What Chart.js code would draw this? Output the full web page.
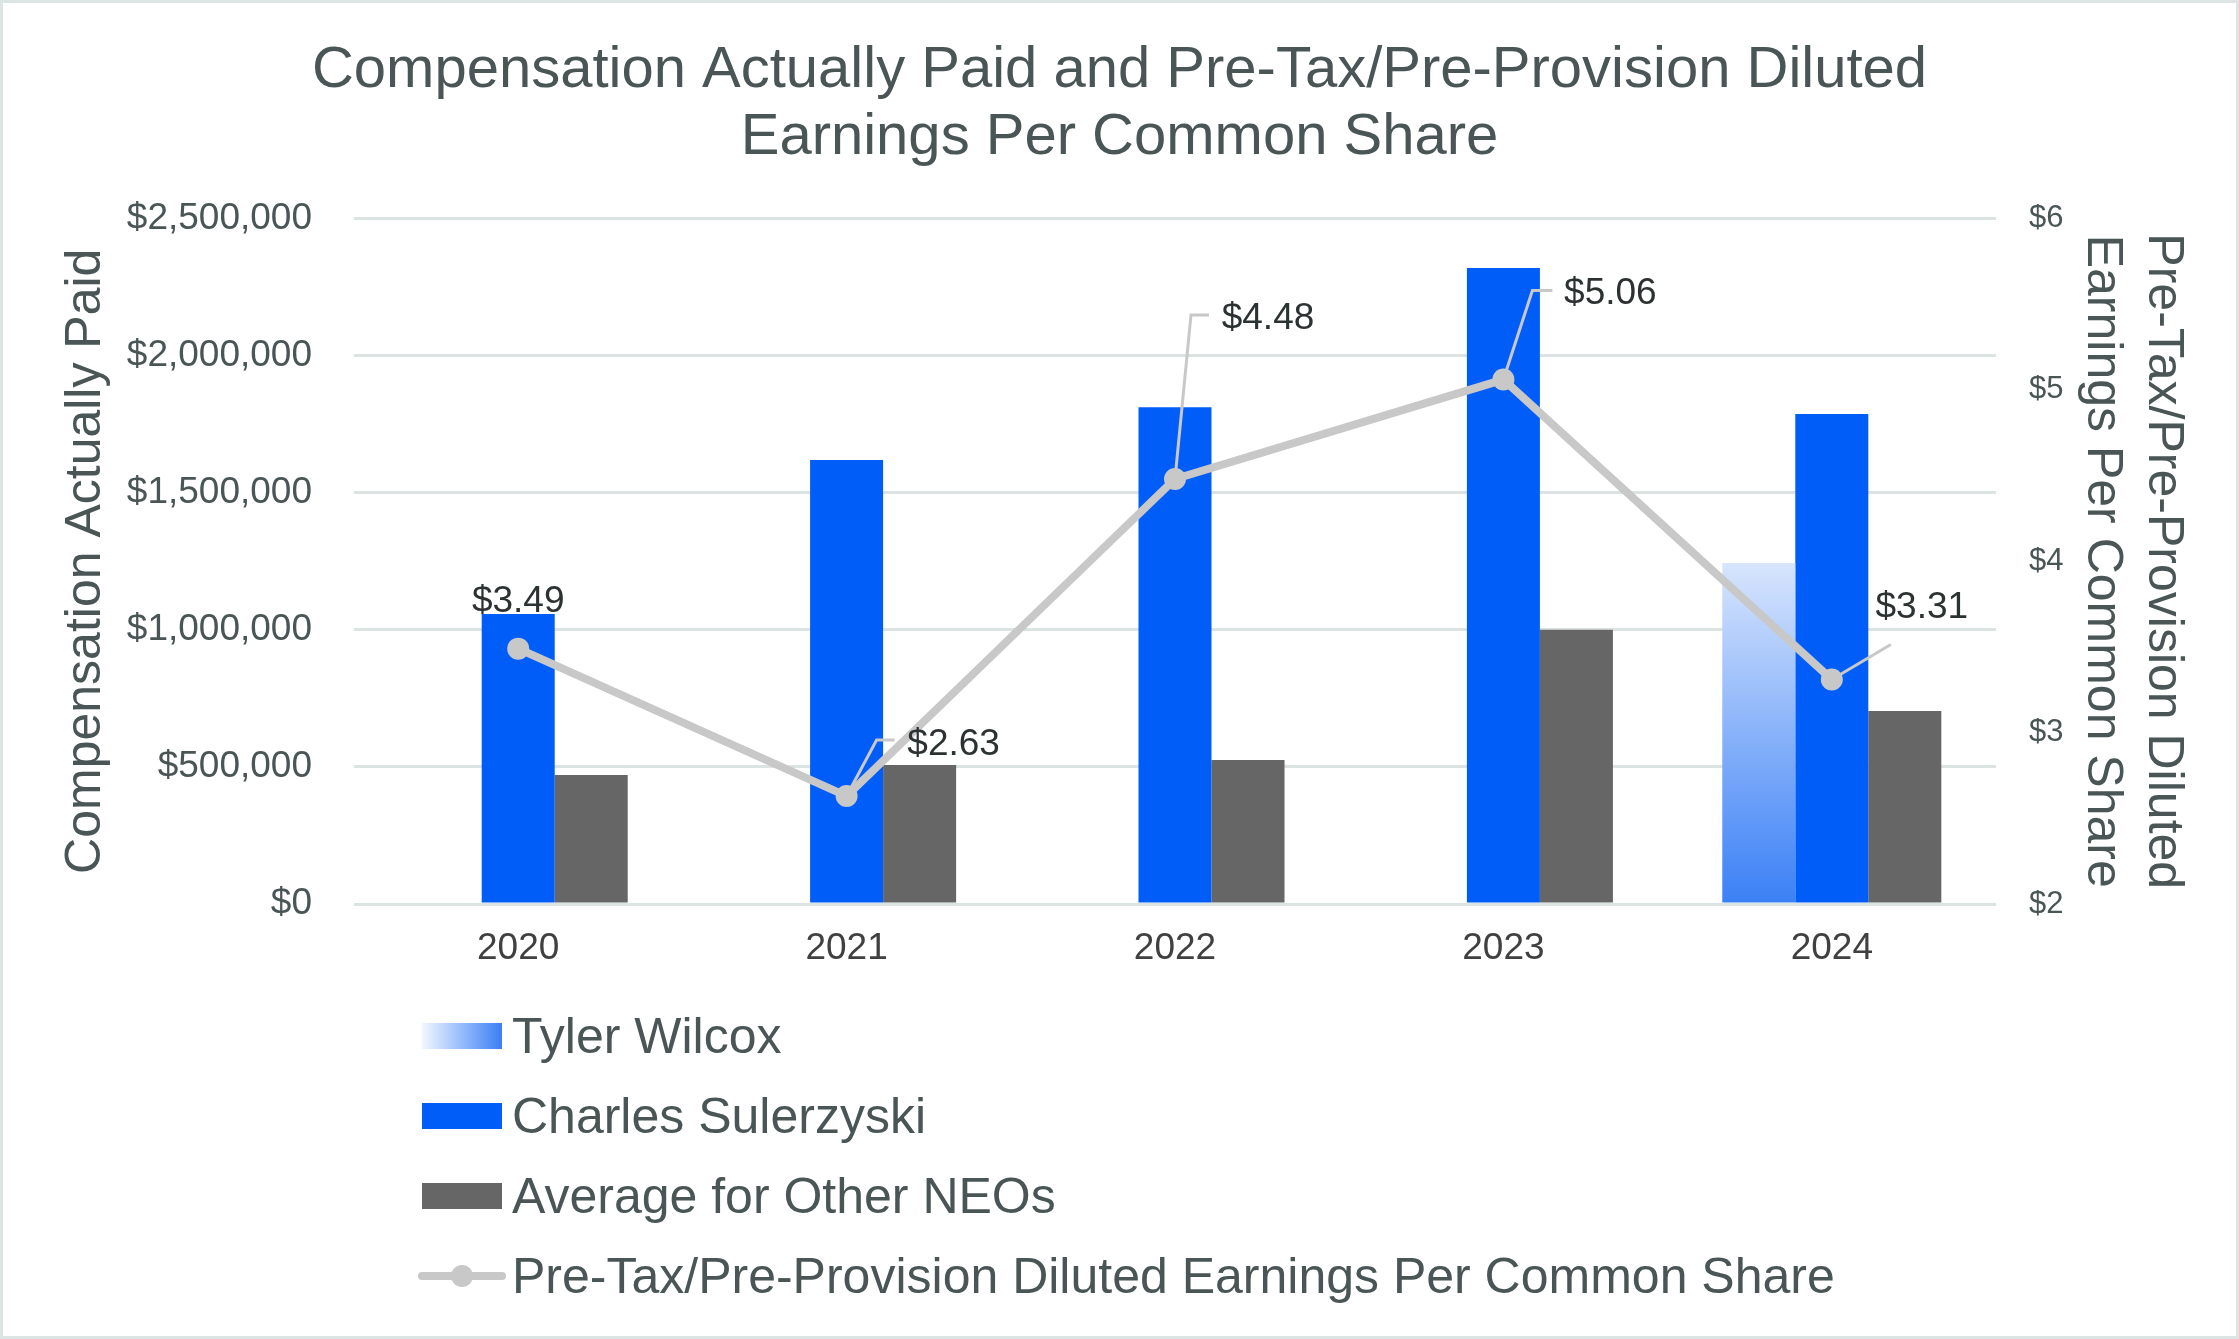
<!DOCTYPE html>
<html><head><meta charset="utf-8">
<script src="https://cdn.jsdelivr.net/npm/chart.js@4.4.1/dist/chart.umd.min.js"></script>
<style>html,body{margin:0;padding:0;background:#fff}#wrap{position:relative;width:2239px;height:1339px}</style>
</head><body><div id="wrap"><canvas id="c"></canvas></div>
<script>
// ---- data ----
const categories = ['2020', '2021', '2022', '2023', '2024'];
const tylerWilcox = [null, null, null, null, 1244000];
const charlesSulerzyski = [1058000, 1619000, 1812000, 2319000, 1787000];
const otherNEOs = [470000, 507000, 525000, 1000000, 704000];
const epsValues = [3.49, 2.63, 4.48, 5.06, 3.31];
const epsLabels = ['$3.49', '$2.63', '$4.48', '$5.06', '$3.31'];
const leftTickLabels = ['$0', '$500,000', '$1,000,000', '$1,500,000', '$2,000,000', '$2,500,000'];
const rightTickLabels = ['$2', '$3', '$4', '$5', '$6'];
const seriesNames = ['Tyler Wilcox', 'Charles Sulerzyski', 'Average for Other NEOs', 'Pre-Tax/Pre-Provision Diluted Earnings Per Common Share'];
const titleLines = ['Compensation Actually Paid and Pre-Tax/Pre-Provision Diluted', 'Earnings Per Common Share'];
const leftAxisTitle = 'Compensation Actually Paid';
const rightAxisTitle = ['Pre-Tax/Pre-Provision Diluted', 'Earnings Per Common Share'];

// ---- style ----
const FONT = '"Liberation Sans", Arial, Helvetica, sans-serif';
const TEXT = '#4a5556';
const BLUE = '#005df8';
const GREY = '#666666';
const LINE = '#c8c8c8';
const GRID = '#dce3e3';
const callouts = [
  {dx: 0, dy: -47, leader: null},
  {dx: 107, dy: -51, leader: [[30, -56], [48, -56]]},
  {dx: 93, dy: -160, leader: [[16, -164], [34, -164]]},
  {dx: 107, dy: -86, leader: [[29, -89], [49, -89]]},
  {dx: 90, dy: -72, leader: [[59, -35]]}
];
const legendLayout = {boxX: 422, boxW: 80, boxH: 26, textX: 512, rows: [1036, 1116, 1196, 1276], textDy: 3, fontSize: 50};

function tylerFill(ctx) {
  const chart = ctx.chart;
  const ys = chart.scales && chart.scales.y;
  if (!ys || ctx.type !== 'data' || ctx.raw == null) return '#7aa8f8';
  const top = ys.getPixelForValue(ctx.raw), base = ys.getPixelForValue(0);
  if (!isFinite(top) || !isFinite(base) || top === base) return '#7aa8f8';
  const g = chart.ctx.createLinearGradient(0, top, 0, base);
  g.addColorStop(0, '#d7e5fd');
  g.addColorStop(1, '#3a80f6');
  return g;
}

const framePlugin = {
  id: 'frame',
  beforeDraw(chart) {
    const c = chart.ctx;
    c.save();
    c.fillStyle = '#ffffff';
    c.fillRect(0, 0, chart.width, chart.height);
    c.restore();
  },
  afterDraw(chart) {
    const c = chart.ctx;
    c.save();
    c.strokeStyle = '#dde4e4';
    c.lineWidth = 3;
    c.strokeRect(1.5, 1.5, chart.width - 3, chart.height - 3);
    c.restore();
  }
};

const calloutPlugin = {
  id: 'callouts',
  afterDatasetsDraw(chart) {
    const meta = chart.getDatasetMeta(3);
    const c = chart.ctx;
    c.save();
    meta.data.forEach((pt, i) => {
      const co = callouts[i];
      if (co.leader) {
        c.strokeStyle = LINE;
        c.lineWidth = 3;
        c.beginPath();
        c.moveTo(pt.x, pt.y);
        co.leader.forEach(p => c.lineTo(pt.x + p[0], pt.y + p[1]));
        c.stroke();
      }
      c.fillStyle = '#2c3232';
      c.font = '37px ' + FONT;
      c.textAlign = 'center';
      c.textBaseline = 'middle';
      c.fillText(epsLabels[i], pt.x + co.dx, pt.y + co.dy);
    });
    c.restore();
  }
};

const legendPlugin = {
  id: 'customLegend',
  afterDraw(chart) {
    const c = chart.ctx;
    const L = legendLayout;
    c.save();
    c.font = L.fontSize + 'px ' + FONT;
    c.textAlign = 'left';
    c.textBaseline = 'middle';
    seriesNames.forEach((name, i) => {
      const y = L.rows[i];
      if (i === 0) {
        const g = c.createLinearGradient(L.boxX, 0, L.boxX + L.boxW, 0);
        g.addColorStop(0, '#f2f7ff');
        g.addColorStop(1, '#3a7ff6');
        c.fillStyle = g;
        c.fillRect(L.boxX, y - L.boxH / 2, L.boxW, L.boxH);
      } else if (i === 1) {
        c.fillStyle = BLUE;
        c.fillRect(L.boxX, y - L.boxH / 2, L.boxW, L.boxH);
      } else if (i === 2) {
        c.fillStyle = GREY;
        c.fillRect(L.boxX, y - L.boxH / 2, L.boxW, L.boxH);
      } else {
        c.strokeStyle = LINE;
        c.lineWidth = 8;
        c.lineCap = 'round';
        c.beginPath();
        c.moveTo(L.boxX, y);
        c.lineTo(L.boxX + L.boxW, y);
        c.stroke();
        c.fillStyle = LINE;
        c.beginPath();
        c.arc(L.boxX + L.boxW / 2, y, 11, 0, Math.PI * 2);
        c.fill();
      }
      c.fillStyle = TEXT;
      c.fillText(name, L.textX, y + L.textDy);
    });
    c.restore();
  }
};

new Chart(document.getElementById('c'), {
  data: {
    labels: categories,
    datasets: [
      {type: 'bar', label: seriesNames[0], data: tylerWilcox, backgroundColor: tylerFill, yAxisID: 'y', order: 1, categoryPercentage: 0.667, barPercentage: 1.0},
      {type: 'bar', label: seriesNames[1], data: charlesSulerzyski, backgroundColor: BLUE, yAxisID: 'y', order: 1, categoryPercentage: 0.667, barPercentage: 1.0},
      {type: 'bar', label: seriesNames[2], data: otherNEOs, backgroundColor: GREY, yAxisID: 'y', order: 1, categoryPercentage: 0.667, barPercentage: 1.0},
      {type: 'line', label: seriesNames[3], data: epsValues, yAxisID: 'y1', order: 0, borderColor: LINE, borderWidth: 8, pointRadius: 11, pointHoverRadius: 11, pointBackgroundColor: LINE, pointBorderWidth: 0, tension: 0, fill: false}
    ]
  },
  options: {
    responsive: true,
    maintainAspectRatio: false,
    animation: false,
    events: [],
    layout: {padding: {left: 0, right: 0, top: 0, bottom: 335}},
    plugins: {
      legend: {display: false},
      tooltip: {enabled: false},
      title: {
        display: true,
        text: titleLines,
        color: TEXT,
        font: {family: FONT, size: 58, weight: 'normal', lineHeight: 1.155},
        padding: {top: 38, bottom: 46.5}
      }
    },
    scales: {
      x: {
        grid: {display: false, drawTicks: false},
        border: {display: false},
        ticks: {color: '#404040', font: {family: FONT, size: 37, lineHeight: 1.2}, padding: 23, maxRotation: 0, autoSkip: false},
        afterFit(scale) { scale.height = 100; }
      },
      y: {
        position: 'left',
        min: 0, max: 2500000,
        ticks: {stepSize: 500000, color: TEXT, font: {family: FONT, size: 37}, padding: 42,
          callback: (v, i) => leftTickLabels[i]},
        grid: {color: GRID, lineWidth: 3, drawTicks: false},
        border: {display: false},
        title: {display: true, text: leftAxisTitle, color: TEXT, font: {family: FONT, size: 50, lineHeight: 1.2}, padding: {top: 56, bottom: 0}},
        afterFit(scale) { scale.width = 354; }
      },
      y1: {
        position: 'right',
        min: 2, max: 6,
        ticks: {stepSize: 1, color: TEXT, font: {family: FONT, size: 31}, padding: 33,
          callback: (v, i) => rightTickLabels[i]},
        grid: {display: false, drawTicks: false},
        border: {display: false},
        title: {display: true, text: rightAxisTitle, color: TEXT, font: {family: FONT, size: 50, lineHeight: 1.22}, padding: {top: 45.5, bottom: 0}},
        afterFit(scale) { scale.width = 243; }
      }
    }
  },
  plugins: [framePlugin, calloutPlugin, legendPlugin]
});
</script>
</body></html>
